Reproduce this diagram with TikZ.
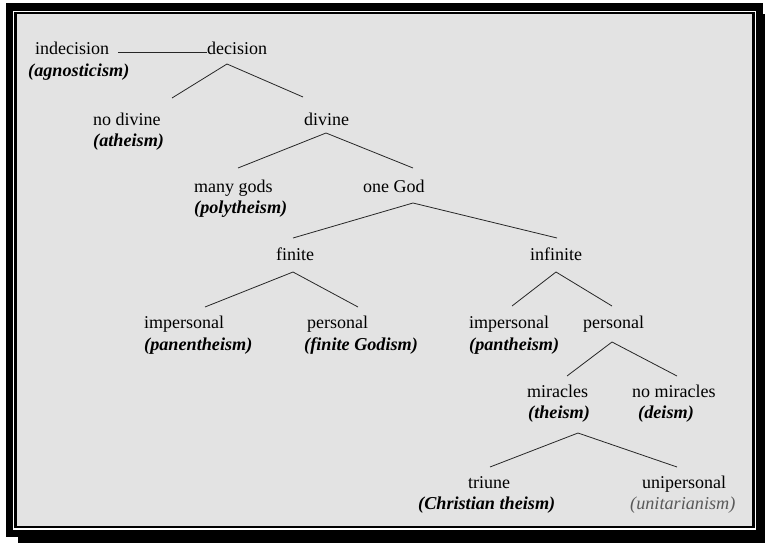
\documentclass[tikz,border=0pt]{standalone}
\usepackage{fontspec}
\setmainfont{Liberation Serif}
\begin{document}
\begin{tikzpicture}[x=1pt,y=-1pt,
  lab/.style={anchor=base west, inner sep=0pt, font=\fontsize{18}{20}\selectfont},
  sub/.style={anchor=base west, inner sep=0pt, font=\fontsize{18.2}{20}\selectfont\bfseries\itshape},
  sublight/.style={anchor=base west, inner sep=0pt, font=\fontsize{18.2}{20}\selectfont\itshape, text=black!65},
  branch/.style={line width=0.8pt, draw=black!85}]
\useasboundingbox (0,0) rectangle (765,543);
% frame
\fill[white] (0,0) rectangle (765,543);
\fill[black] (18,14) rectangle (765,543);
\fill[black] (6,3) rectangle (763,537);
\fill[white] (13.3,11) rectangle (755.5,530);
\fill[black] (14.3,12) rectangle (754.5,527.8);
\fill[black!11] (16.5,14.5) rectangle (752.3,525.8);
% labels
\node[lab] (ind) at (35,55) {indecision};
\node[sub] (agn) at (28,76) {(agnosticism)};
\node[lab] (dec) at (207,55) {decision};
\node[lab] (nodiv) at (93,125) {no divine};
\node[sub] (ath) at (93,146) {(atheism)};
\node[lab] (div) at (304,125) {divine};
\node[lab] (many) at (194,192) {many gods};
\node[sub] (poly) at (194,213) {(polytheism)};
\node[lab] (one) at (363,192) {one God};
\node[lab] (fin) at (276,260) {finite};
\node[lab] (inf) at (530,260) {infinite};
\node[lab] (impa) at (144,328) {impersonal};
\node[sub] (pane) at (144,350) {(panentheism)};
\node[lab] (pera) at (307,328) {personal};
\node[sub] (fgod) at (304,350) {(finite Godism)};
\node[lab] (impb) at (469,328) {impersonal};
\node[sub] (pant) at (469,350) {(pantheism)};
\node[lab] (perb) at (583,328) {personal};
\node[lab] (mir) at (527,397) {miracles};
\node[sub] (the) at (528,418) {(theism)};
\node[lab] (nomir) at (632,397) {no miracles};
\node[sub] (dei) at (638,418) {(deism)};
\node[lab] (tri) at (468,488) {triune};
\node[sub] (chr) at (418,509) {(Christian theism)};
\node[lab] (uni) at (642,488) {unipersonal};
\node[sublight] (unit) at (630,509) {(unitarianism)};
% branch points
\coordinate (h1) at (118,52);  \coordinate (h2) at (207,52);
\coordinate (d0) at (227,64);  \coordinate (d1) at (172,98);  \coordinate (d2) at (303,97);
\coordinate (v0) at (326,133); \coordinate (v1) at (238,168); \coordinate (v2) at (413,168);
\coordinate (o0) at (413,203); \coordinate (o1) at (293,238); \coordinate (o2) at (557,238);
\coordinate (f0) at (293,272); \coordinate (f1) at (205,307); \coordinate (f2) at (358,307);
\coordinate (i0) at (556,272); \coordinate (i1) at (512,306); \coordinate (i2) at (612,306);
\coordinate (p0) at (612,342); \coordinate (p1) at (567,376); \coordinate (p2) at (677,376);
\coordinate (m0) at (578,433); \coordinate (m1) at (490,467); \coordinate (m2) at (677,467);
% connectors
\draw[branch] (h1) -- (h2);
\draw[branch] (d1) -- (d0) -- (d2);
\draw[branch] (v1) -- (v0) -- (v2);
\draw[branch] (o1) -- (o0) -- (o2);
\draw[branch] (f1) -- (f0) -- (f2);
\draw[branch] (i1) -- (i0) -- (i2);
\draw[branch] (p1) -- (p0) -- (p2);
\draw[branch] (m1) -- (m0) -- (m2);
\end{tikzpicture}
\end{document}
